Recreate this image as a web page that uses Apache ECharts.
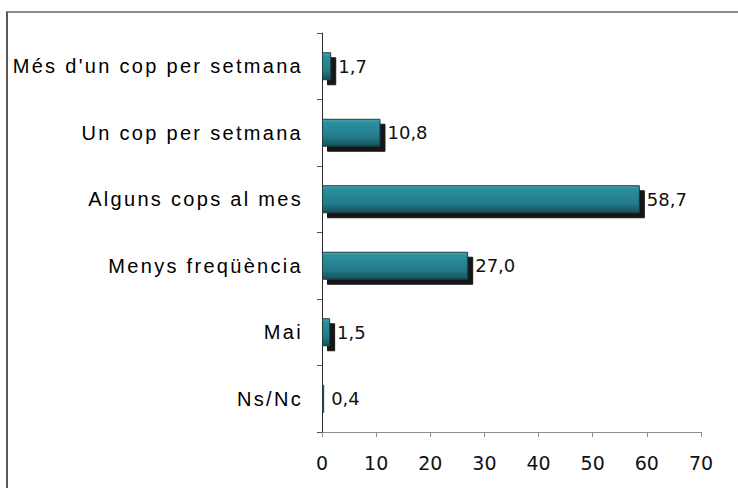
<!DOCTYPE html>
<html>
<head>
<meta charset="utf-8">
<script src="https://cdn.jsdelivr.net/npm/echarts@6/dist/echarts.min.js"></script>
<style>
  html, body { margin: 0; padding: 0; background: #fff; }
  #wrap { position: relative; width: 738px; height: 488px; overflow: hidden; }
  #frame { position: absolute; left: 6px; top: 11px; right: -4px; bottom: -4px;
           border-top: 2px solid #8a8a8a; border-left: 2px solid #5a5a5a; }
  #chart { position: absolute; left: 0; top: 0; width: 738px; height: 488px; }
  /* category names are set with a wide tracking */
  #chart text[style*="Liberation Sans"] { letter-spacing: 2.3px; }
</style>
</head>
<body>
<div id="wrap">
  <div id="frame"></div>
  <div id="chart"></div>
</div>
<script>
// Freqüència (%)
const categories = [
  "Més d'un cop per setmana",
  'Un cop per setmana',
  'Alguns cops al mes',
  'Menys freqüència',
  'Mai',
  'Ns/Nc'
];
const values = [1.7, 10.8, 58.7, 27.0, 1.5, 0.4];
const axisMin = 0;
const axisMax = 70;
const axisStep = 10;

const fmt = v => v.toFixed(1).replace('.', ',');

const chart = echarts.init(document.getElementById('chart'), null, { renderer: 'svg' });
chart.setOption({
  animation: false,
  grid: { left: 322, right: 37, top: 33, bottom: 56, containLabel: false },
  xAxis: {
    type: 'value',
    min: axisMin,
    max: axisMax,
    interval: axisStep,
    splitLine: { show: false },
    axisLine: { show: true, lineStyle: { color: '#8c8c8c', width: 1 } },
    axisTick: { show: true, length: 5, lineStyle: { color: '#8c8c8c' } },
    axisLabel: {
      margin: 21,
      color: '#111',
      fontFamily: 'DejaVu Sans',
      fontSize: 19
    }
  },
  yAxis: {
    type: 'category',
    inverse: true,
    data: categories,
    axisLine: { show: true, lineStyle: { color: '#2a2a2a', width: 1 } },
    axisTick: { show: true, length: 5, lineStyle: { color: '#555' } },
    axisLabel: {
      margin: 19,
      color: '#000',
      fontFamily: 'Liberation Sans',
      fontSize: 20
    }
  },
  series: [{
    type: 'bar',
    data: values,
    barWidth: 28,
    itemStyle: {
      color: new echarts.graphic.LinearGradient(0, 0, 0, 1, [
        { offset: 0, color: '#48a8b6' },
        { offset: 0.12, color: '#2c8f9f' },
        { offset: 0.65, color: '#237c8a' },
        { offset: 1, color: '#174f58' }
      ]),
      borderColor: '#1b3c42',
      borderWidth: 1,
      shadowColor: '#151515',
      shadowBlur: 0,
      shadowOffsetX: 5,
      shadowOffsetY: 5
    },
    label: {
      show: true,
      position: 'right',
      distance: 7,
      color: '#111',
      fontFamily: 'DejaVu Sans',
      fontSize: 18,
      formatter: p => fmt(p.value)
    }
  }]
});
</script>
</body>
</html>
